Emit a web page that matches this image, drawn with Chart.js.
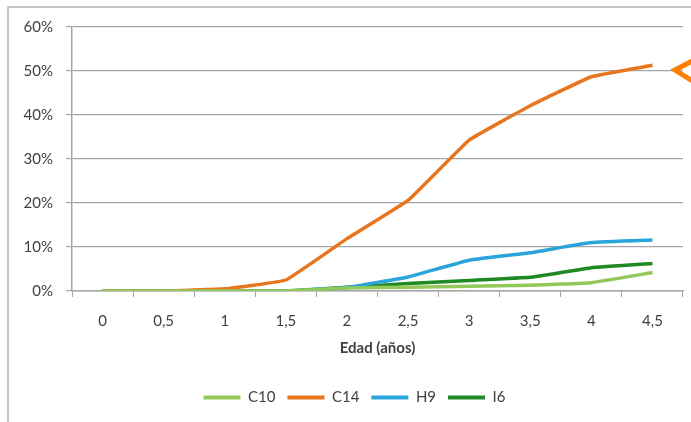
<!DOCTYPE html>
<html>
<head>
<meta charset="utf-8">
<script src="https://cdn.jsdelivr.net/npm/chart.js@4/dist/chart.umd.min.js"></script>
<style>
  html, body { margin: 0; padding: 0; background: #ffffff; }
  #wrap { width: 691px; height: 422px; position: relative; }
</style>
</head>
<body>
<div id="wrap"><canvas id="c" width="691" height="422"></canvas></div>
<script>
// Edad (años) en el eje X
const edades = ['0', '0,5', '1', '1,5', '2', '2,5', '3', '3,5', '4', '4,5'];

// Porcentaje por serie en cada edad
const c10 = [0, 0, 0, 0, 0.7, 0.85, 1.1, 1.3, 1.9, 4.2];
const c14 = [0, 0, 0.5, 2.5, 11.9, 20.6, 34.3, 42.1, 48.7, 51.3];
const h9  = [0, 0, 0, 0, 0.8, 3.2, 7.0, 8.7, 11.0, 11.6];
const i6  = [0, 0, 0, 0, 0.85, 1.7, 2.4, 3.1, 5.3, 6.25];

const yTicks = [0, 10, 20, 30, 40, 50, 60];

const FONT = 'Lato, "Open Sans", sans-serif';
const GRID = '#a6a6a6';

// marco exterior del gráfico
const framePlugin = {
  id: 'frame',
  beforeDraw(chart) {
    const ctx = chart.ctx;
    ctx.save();
    ctx.fillStyle = '#ffffff';
    ctx.fillRect(0, 0, chart.width, chart.height);
    ctx.strokeStyle = '#b4b4b4';
    ctx.lineWidth = 1.5;
    ctx.beginPath();
    ctx.moveTo(8, chart.height + 2);
    ctx.lineTo(8, 7);
    ctx.lineTo(chart.width + 2, 7);
    ctx.stroke();
    ctx.restore();
  }
};

// la leyenda se centra bajo el área de trazado y el eje
const legendShift = {
  id: 'legendShift',
  afterLayout(chart) {
    const lg = chart.legend;
    if (lg) { lg.left += 13; lg.right += 13; }
  }
};

// flecha que señala el nivel del 50 %
const arrowPlugin = {
  id: 'arrow',
  afterDraw(chart) {
    const ctx = chart.ctx;
    const y = chart.scales.y.getPixelForValue(50);
    const x = chart.chartArea.right - 10;
    ctx.save();
    ctx.strokeStyle = '#ff7f00';
    ctx.lineWidth = 5;
    ctx.lineCap = 'butt';
    ctx.lineJoin = 'miter';
    ctx.beginPath();
    ctx.moveTo(x + 21, y - 11);
    ctx.lineTo(x + 2, y - 1);
    ctx.lineTo(x + 21, y + 11);
    ctx.stroke();
    ctx.restore();
  }
};

const mk = (label, data, color) => ({
  label, data,
  borderColor: color,
  backgroundColor: color,
  borderWidth: 3.5,
  pointRadius: 0,
  pointHoverRadius: 0,
  tension: 0.08,
  fill: false
});

new Chart(document.getElementById('c'), {
  type: 'line',
  data: {
    labels: edades,
    datasets: [
      mk('C10', c10, '#93c85a'),
      mk('C14', c14, '#e8761e'),
      mk('H9', h9, '#2aa5dc'),
      mk('I6', i6, '#1f8a24')
    ]
  },
  options: {
    responsive: false,
    animation: false,
    devicePixelRatio: 1,
    layout: { padding: { left: 0, right: 8, top: 27, bottom: 7 } },
    plugins: {
      tooltip: { enabled: false },
      legend: {
        position: 'bottom',
        labels: {
          boxWidth: 37,
          boxHeight: 4,
          padding: 12,
          color: '#404040',
          font: { family: FONT, size: 15 },
          generateLabels(chart) {
            return chart.data.datasets.map((ds, i) => ({
              text: ds.label,
              fillStyle: ds.borderColor,
              strokeStyle: ds.borderColor,
              lineWidth: 0,
              fontColor: '#404040',
              datasetIndex: i
            }));
          }
        }
      }
    },
    scales: {
      x: {
        offset: true,
        afterFit(scale) { scale.height = 87; },
        grid: {
          offset: true,
          drawOnChartArea: false,
          drawTicks: true,
          tickLength: 6,
          color: GRID
        },
        border: { color: GRID, width: 1.5 },
        ticks: {
          color: '#404040',
          font: { family: FONT, size: 15 },
          padding: 15,
          maxRotation: 0
        },
        title: {
          display: true,
          text: 'Edad (años)',
          color: '#404040',
          font: { family: FONT, size: 15, weight: 'bold' },
          padding: { top: 0, bottom: 21 }
        }
      },
      y: {
        min: 0,
        max: 60,
        afterFit(scale) { scale.width = 72; },
        afterBuildTicks(scale) { scale.ticks = yTicks.map(v => ({ value: v })); },
        grid: {
          color: GRID,
          lineWidth: 1.2,
          drawTicks: true,
          tickLength: 6
        },
        border: { color: GRID, width: 1.5 },
        ticks: {
          color: '#404040',
          font: { family: FONT, size: 15 },
          padding: 13,
          callback: v => v + '%'
        }
      }
    }
  },
  plugins: [framePlugin, legendShift, arrowPlugin]
});
</script>
</body>
</html>
